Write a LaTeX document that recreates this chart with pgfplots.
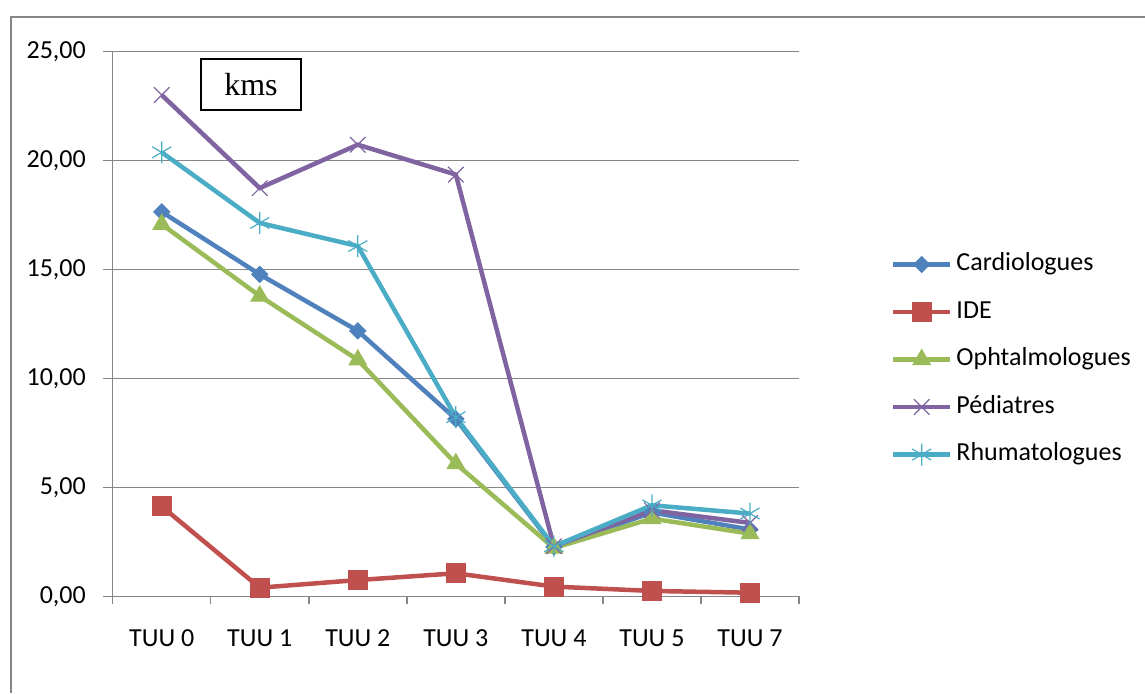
\documentclass[border=0pt]{standalone}
\usepackage{fontspec}
\setmainfont{Carlito}
\newfontfamily\boxfont{Liberation Serif}
\usepackage{pgfplots}
\pgfplotsset{compat=1.18}

\definecolor{cardio}{HTML}{4F81BD}
\definecolor{ide}{HTML}{C0504D}
\definecolor{ophta}{HTML}{9BBB59}
\definecolor{pedia}{HTML}{8064A2}
\definecolor{rhuma}{HTML}{4BACC6}
\definecolor{axisgray}{HTML}{868686}

\begin{document}
\begin{tikzpicture}[x=1pt,y=1pt]
% chart frame (top and left edges)
\draw[line width=1pt, axisgray] (5.5,0) -- (5.5,338) -- (572.5,338);

\begin{axis}[
  at={(56.35pt,48.3pt)}, anchor=south west,
  scale only axis, width=343.15pt, height=272.5pt,
  xmin=-0.5, xmax=6.5, ymin=0, ymax=25,
  axis x line*=bottom, axis y line*=left,
  axis line style={axisgray, line width=0.75pt},
  ymajorgrids, grid style={axisgray, line width=0.75pt},
  ytick={0,5,...,25},
  xtick={0,...,6},
  xticklabels={TUU 0,TUU 1,TUU 2,TUU 3,TUU 4,TUU 5,TUU 7},
  minor xtick={-0.5,0.5,...,6.5},
  major x tick style={draw=none},
  tick align=outside,
  major tick length=5pt, minor tick length=4pt,
  tick style={axisgray, line width=0.75pt},
  tick label style={font=\fontsize{13}{15}\selectfont, black},
  yticklabel style={xshift=-4pt, /pgf/number format/.cd, fixed, fixed zerofill, precision=2, use comma, assume math mode=true},
  xticklabel style={yshift=-7pt},
  line width=2.25pt,
  legend style={at={(1.122,0.4347)}, anchor=west, draw=none, fill=none,
    font=\fontsize{13}{15}\selectfont, row sep=11.75pt, column sep=2pt,
    nodes={inner sep=0pt, text height=9pt, text depth=3pt}},
  legend cell align=left,
  legend image code/.code={\draw[mark repeat=2,mark phase=2] plot coordinates {(0pt,0pt)(14.25pt,0pt)(28.5pt,0pt)};},
]
\addplot[cardio, mark=square*, mark size=2.83pt, mark options={rotate=45, line width=0.5pt}]
  coordinates {(0,17.64)(1,14.77)(2,12.18)(3,8.14)(4,2.27)(5,3.85)(6,3.07)};
\addlegendentry{Cardiologues}
\addplot[ide, mark=square*, mark size=4.7pt, mark options={line width=0.5pt}]
  coordinates {(0,4.13)(1,0.40)(2,0.75)(3,1.06)(4,0.45)(5,0.25)(6,0.17)};
\addlegendentry{IDE}
\addplot[ophta, mark=triangle*, mark size=5pt, mark options={line width=0.5pt}]
  coordinates {(0,17.07)(1,13.78)(2,10.85)(3,6.09)(4,2.22)(5,3.57)(6,2.88)};
\addlegendentry{Ophtalmologues}
\addplot[pedia, mark=x, mark size=5.5pt, mark options={line width=0.6pt}]
  coordinates {(0,23.00)(1,18.73)(2,20.72)(3,19.35)(4,2.30)(5,3.95)(6,3.37)};
\addlegendentry{Pédiatres}
\addplot[rhuma, mark=asterisk, mark size=5.5pt, mark options={line width=0.6pt}]
  coordinates {(0,20.37)(1,17.13)(2,16.07)(3,8.22)(4,2.30)(5,4.18)(6,3.80)};
\addlegendentry{Rhumatologues}
\end{axis}

\node[draw, line width=0.75pt, minimum width=50pt, minimum height=25.5pt, inner sep=0pt,
      font=\boxfont\fontsize{16}{18}\selectfont] at (125.5,304.25) {kms};

\pgfresetboundingbox
\path (0,0) rectangle (572.5,346.5);
\end{tikzpicture}
\end{document}
